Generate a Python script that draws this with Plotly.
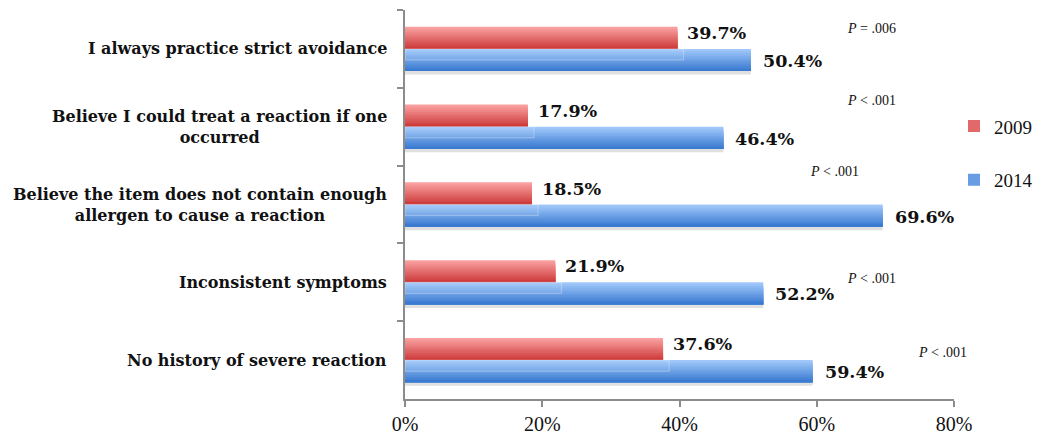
import plotly.graph_objects as go

# Reasons for not carrying epinephrine, share of respondents by survey year
categories = [
    "I always practice strict avoidance",
    "Believe I could treat a reaction if one<br>occurred",
    "Believe the item does not contain enough<br>allergen to cause a reaction",
    "Inconsistent symptoms",
    "No history of severe reaction",
]
pct_2009 = [39.7, 17.9, 18.5, 21.9, 37.6]
pct_2014 = [50.4, 46.4, 69.6, 52.2, 59.4]
p_values = ["= .006", "< .001", "< .001", "< .001", "< .001"]
x_ticks = [0, 20, 40, 60, 80]

# placement of the P-value notes: (x in %, vertical shift in px)
p_place = [(64.1, 20), (64.1, 26), (58.7, 33), (64.1, 4), (74.5, 8)]

BAR_W = 0.285
N_STRIPES = 12
RED_TOP, RED_BOT = (250, 160, 160), (206, 60, 60)
BLUE_TOP, BLUE_BOT = (160, 200, 250), (58, 122, 208)

SERIF_B = "DejaVu Serif"
SERIF = "Liberation Serif"


def mix(c1, c2, t):
    return "rgb({},{},{})".format(*[round(a + (b - a) * t) for a, b in zip(c1, c2)])


fig = go.Figure()


def add_gradient_bar(values, top_offset, c_top, c_bot, name, rank):
    # each layer runs from its start down to the bar's bottom edge,
    # so later (darker) layers cover the lower part without seams
    step = BAR_W / N_STRIPES
    for k in range(N_STRIPES):
        t = k / (N_STRIPES - 1)
        fig.add_trace(go.Bar(
            y=categories, x=values, orientation="h",
            offset=top_offset + k * step, width=BAR_W - k * step,
            marker=dict(color=mix(c_top, c_bot, t), line=dict(width=0)),
            name=name, legendgroup=name, legendrank=rank,
            showlegend=(k == N_STRIPES // 2),
            hoverinfo="skip",
        ))


# soft drop shadow beneath the 2014 bars
fig.add_trace(go.Bar(
    y=categories, x=pct_2014, orientation="h",
    offset=0.045, width=BAR_W, showlegend=False, hoverinfo="skip",
    marker=dict(color="rgba(0,0,0,0.12)", line=dict(width=0)),
))

add_gradient_bar(pct_2009, -BAR_W, RED_TOP, RED_BOT, "2009", 1)
add_gradient_bar(pct_2014, 0.0, BLUE_TOP, BLUE_BOT, "2014", 2)

# faint reflection of the 2009 bar across the top of the 2014 bar
fig.add_trace(go.Bar(
    y=categories, x=[v + 0.9 for v in pct_2009], orientation="h",
    offset=0.0, width=BAR_W * 0.5, showlegend=False, hoverinfo="skip",
    marker=dict(color="rgba(255,255,255,0.06)",
                line=dict(color="rgba(255,255,255,0.3)", width=1)),
))

annotations = []
for cat, v09, v14 in zip(categories, pct_2009, pct_2014):
    annotations.append(dict(
        x=v09, y=cat, xref="x", yref="y", text=f"{v09:.1f}%",
        showarrow=False, xanchor="left", xshift=8, yshift=16,
        font=dict(family=SERIF_B, size=17.5, color="#111", weight="bold"),
    ))
    annotations.append(dict(
        x=v14, y=cat, xref="x", yref="y", text=f"{v14:.1f}%",
        showarrow=False, xanchor="left", xshift=10, yshift=-12,
        font=dict(family=SERIF_B, size=17.5, color="#111", weight="bold"),
    ))
    annotations.append(dict(
        x=0, y=cat, xref="paper", yref="y", text=cat,
        showarrow=False, xanchor="right", xshift=-16, align="center",
        font=dict(family=SERIF_B, size=16, color="#111", weight="bold"),
    ))

for cat, p, (px, dy) in zip(categories, p_values, p_place):
    annotations.append(dict(
        x=px, y=cat, xref="x", yref="y", text=f"<i>P</i> {p}",
        showarrow=False, xanchor="left", yshift=dy,
        font=dict(family=SERIF, size=14, color="#111"),
    ))

fig.update_layout(
    width=1039, height=434,
    margin=dict(l=405, r=85, t=10, b=35, autoexpand=False),
    paper_bgcolor="white", plot_bgcolor="white",
    barmode="overlay",
    showlegend=True,
    legend=dict(
        x=1.0, y=0.75, xanchor="left", yanchor="top",
        font=dict(family=SERIF, size=19, color="#111"),
        tracegroupgap=26, itemwidth=30,
        bgcolor="rgba(0,0,0,0)",
    ),
    xaxis=dict(
        range=[0, 80], tickvals=x_ticks, ticktext=[f"{t}%" for t in x_ticks],
        showgrid=False, zeroline=False,
        showline=True, linecolor="#8c8c8c", linewidth=1.5,
        ticks="outside", ticklen=6, tickcolor="#8c8c8c", tickwidth=1.5,
        tickfont=dict(family=SERIF, size=20, color="#111"),
    ),
    yaxis=dict(
        categoryorder="array", categoryarray=categories,
        range=[4.5, -0.5],
        showgrid=False, zeroline=False,
        showline=True, linecolor="#8c8c8c", linewidth=1.5,
        ticks="outside", ticklen=6, tickcolor="#8c8c8c", tickwidth=1.5,
        tickson="boundaries", showticklabels=False,
    ),
    annotations=annotations,
)

fig.write_html("out.html")
